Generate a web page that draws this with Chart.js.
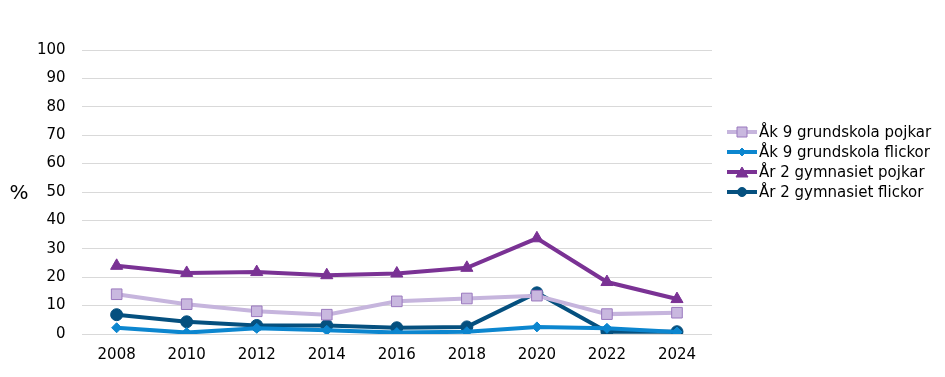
<!DOCTYPE html>
<html><head><meta charset="utf-8">
<script src="https://cdn.jsdelivr.net/npm/chart.js@4/dist/chart.umd.min.js"></script>
<style>html,body{margin:0;padding:0;background:#fff}#wrap{width:945px;height:377px}</style>
</head><body><div id="wrap"><canvas id="c" width="945" height="377"></canvas></div>
<script>
const years = ['2008','2010','2012','2014','2016','2018','2020','2022','2024'];
const ak9Pojkar = [14.0, 10.5, 8.0, 6.8, 11.5, 12.5, 13.5, 7.0, 7.5];
const ak9Flickor = [2.2, 0.5, 2.0, 1.3, 0.5, 0.8, 2.5, 2.0, 0.7];
const gymPojkar = [24.0, 21.5, 21.8, 20.7, 21.3, 23.3, 33.7, 18.3, 12.3];
const gymFlickor = [6.8, 4.3, 3.0, 3.0, 2.2, 2.5, 14.5, 0.8, 0.8];
const seriesNames = ['Åk 9 grundskola pojkar','Åk 9 grundskola flickor','År 2 gymnasiet pojkar','År 2 gymnasiet flickor'];
const yTicks = [0,10,20,30,40,50,60,70,80,90,100];

const FONT = 'DejaVu Sans';
const styles = [
  {line:'#C6B5DD', fill:'#C9B8DF', border:'#9A78BE', pt:'rect', r:7.5},
  {line:'#0C86CF', fill:'#0C86CF', border:'#0C86CF', pt:'rectRot', r:5},
  {line:'#7A3294', fill:'#7A3294', border:'#7A3294', pt:'triangle', r:7},
  {line:'#05507F', fill:'#05507F', border:'#05507F', pt:'circle', r:6}
];

function drawIcon(g, s, x, cy){
  g.save();
  g.strokeStyle = s.line; g.lineWidth = 4;
  g.beginPath(); g.moveTo(x,cy); g.lineTo(x+30,cy); g.stroke();
  g.fillStyle = s.fill; g.strokeStyle = s.border; g.lineWidth = 1;
  const cx = x+15;
  g.beginPath();
  if(s.pt==='rect'){ g.rect(cx-5,cy-5,10,10); }
  else if(s.pt==='rectRot'){ g.moveTo(cx,cy-4);g.lineTo(cx+4,cy);g.lineTo(cx,cy+4);g.lineTo(cx-4,cy);g.closePath(); }
  else if(s.pt==='triangle'){ g.moveTo(cx,cy-5);g.lineTo(cx+6,cy+5);g.lineTo(cx-6,cy+5);g.closePath(); }
  else { g.arc(cx,cy,4.5,0,Math.PI*2); }
  g.fill(); g.stroke();
  g.restore();
}

const dataArrays = [ak9Pojkar, ak9Flickor, gymPojkar, gymFlickor];
const datasets = dataArrays.map((d,i)=>({
  label: seriesNames[i],
  data: d,
  borderColor: styles[i].line,
  backgroundColor: styles[i].fill,
  pointBackgroundColor: styles[i].fill,
  pointBorderColor: styles[i].border,
  pointBorderWidth: 1,
  pointStyle: styles[i].pt,
  pointRadius: styles[i].r,
  borderWidth: 4,
  tension: 0
}));

const extras = {
  id:'extras',
  afterDraw(chart){
    const g = chart.ctx;
    g.save();
    g.font = '20px ' + FONT;
    g.fillStyle = '#000';
    g.textAlign = 'center'; g.textBaseline = 'middle';
    const y = chart.scales.y.getPixelForValue(50);
    g.fillText('%', 19, y + 2);
    // legend
    g.font = '15px ' + FONT;
    g.textAlign = 'left';
    const lx = chart.chartArea.right + 15;
    chart.data.datasets.forEach((ds,i)=>{
      const cy = 132 + i*20;
      drawIcon(g, styles[i], lx, cy);
      g.fillStyle = '#000';
      g.fillText(ds.label, lx + 32, cy + 1);
    });
    g.restore();
  }
};

new Chart(document.getElementById('c'), {
  type:'line',
  data:{labels:years, datasets},
  options:{
    responsive:false, animation:false,
    layout:{padding:{left:21, top:50, right:233, bottom:0}},
    plugins:{
      tooltip:{enabled:false},
      legend:{display:false}
    },
    scales:{
      x:{
        offset:true,
        grid:{display:false, drawTicks:false},
        border:{display:false},
        ticks:{font:{family:FONT, size:15}, color:'#000', padding:12.5, maxRotation:0}
      },
      y:{
        min:0, max:100,
        afterBuildTicks(ax){ ax.ticks = yTicks.map(v=>({value:v})); },
        grid:{color:'#D9D9D9', lineWidth:1, drawTicks:false},
        border:{display:false},
        ticks:{font:{family:FONT, size:15}, color:'#000', padding:16}
      }
    }
  },
  plugins:[extras]
});
</script>
</body></html>
